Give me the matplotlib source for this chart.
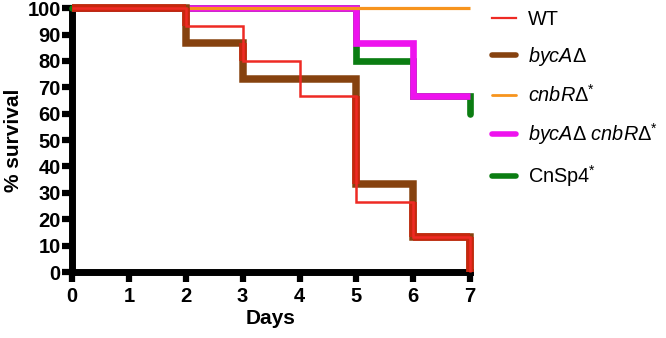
import matplotlib
matplotlib.use("Agg")
import matplotlib.pyplot as plt
from matplotlib.lines import Line2D
import numpy as np

plt.rcParams['font.family'] = ['Liberation Sans', 'DejaVu Sans']
plt.rcParams['mathtext.fontset'] = 'custom'
plt.rcParams['mathtext.rm'] = 'Liberation Sans'
plt.rcParams['mathtext.it'] = 'Liberation Sans:italic'
plt.rcParams['mathtext.bf'] = 'Liberation Sans:bold'

# ---- data (Kaplan-Meier steps: time of change, survival after change) ----
wt_days = [0, 2, 3, 4, 5, 6, 7]
wt_surv = [100, 93.3, 80, 66.7, 26.7, 13.3, 0]

byca_days = [0, 2, 3, 5, 6, 7]
byca_surv = [100, 86.7, 73.3, 33.3, 13.3, 0]

cnbr_days = [0, 7]
cnbr_surv = [100, 100]

double_days = [0, 5, 6, 7]
double_surv = [100, 86.7, 66.7, 66.7]

cnsp4_days = [0, 5, 6, 7]
cnsp4_surv = [100, 80, 66.7, 60]

labels = ['WT', r'$\mathit{bycA\Delta}$', r'$\mathit{cnbR\Delta}^{*}$',
          r'$\mathit{bycA\Delta\ cnbR\Delta}^{*}$', r'CnSp4$^{*}$']
x_ticks = list(range(0, 8))
y_ticks = list(range(0, 101, 10))

c_wt = '#ee2a24'
c_byca = '#86420f'
c_overlap = '#c8260e'
c_cnbr = '#f7941d'
c_double = '#ee12ee'
c_cnsp4 = '#0b7d12'


def step_xy(t, s):
    xs, ys = [t[0]], [s[0]]
    for i in range(1, len(t)):
        xs += [t[i], t[i]]
        ys += [s[i - 1], s[i]]
    return np.array(xs, float), np.array(ys, float)


def segments(t, s):
    xs, ys = step_xy(t, s)
    return [((xs[i], ys[i]), (xs[i + 1], ys[i + 1])) for i in range(len(xs) - 1)]


def overlaps(t1, s1, t2, s2):
    out = []
    for (a0, a1) in segments(t1, s1):
        for (b0, b1) in segments(t2, s2):
            if a0[1] == a1[1] and b0[1] == b1[1] and abs(a0[1] - b0[1]) < 1e-9:
                lo = max(min(a0[0], a1[0]), min(b0[0], b1[0]))
                hi = min(max(a0[0], a1[0]), max(b0[0], b1[0]))
                if hi > lo:
                    out.append(([lo, hi], [a0[1], a0[1]]))
            elif a0[0] == a1[0] and b0[0] == b1[0] and abs(a0[0] - b0[0]) < 1e-9:
                lo = max(min(a0[1], a1[1]), min(b0[1], b1[1]))
                hi = min(max(a0[1], a1[1]), max(b0[1], b1[1]))
                if hi > lo:
                    out.append(([a0[0], a0[0]], [lo, hi]))
    return out


fig = plt.figure(figsize=(6.66, 3.38), dpi=100)
ax = fig.add_axes([0.108, 0.195, 0.598, 0.781])

kw = dict(solid_capstyle='butt', solid_joinstyle='miter', clip_on=False)
ax.plot(*step_xy(cnsp4_days, cnsp4_surv), color=c_cnsp4, lw=4.8, zorder=3,
        solid_capstyle='round', solid_joinstyle='miter', clip_on=False)
ax.plot(*step_xy(double_days, double_surv), color=c_double, lw=4.8, zorder=4, **kw)
ax.plot(*step_xy(cnbr_days, cnbr_surv), color=c_cnbr, lw=2.3, zorder=5, **kw)
ax.plot(*step_xy(byca_days, byca_surv), color=c_byca, lw=5.4, zorder=6, **kw)
for xs, ys in overlaps(wt_days, wt_surv, byca_days, byca_surv):
    ax.plot(xs, ys, color=c_overlap, lw=5.4, zorder=7, **kw)
ax.plot(*step_xy(wt_days, wt_surv), color=c_wt, lw=1.8, zorder=8, **kw)

ax.set_xlim(0, 7)
ax.set_ylim(0, 100)
ax.set_xticks(x_ticks)
ax.set_yticks(y_ticks)
ax.set_xticklabels([str(v) for v in x_ticks], fontsize=14.5, fontweight='bold')
ax.set_yticklabels([str(v) for v in y_ticks], fontsize=14.5, fontweight='bold')
for side in ['top', 'right']:
    ax.spines[side].set_visible(False)
for side in ['left', 'bottom']:
    ax.spines[side].set_linewidth(5.0)
    ax.spines[side].set_zorder(2)
ax.tick_params(axis='both', direction='out', length=7, width=4.5)
ax.tick_params(axis='x', pad=4)
ax.tick_params(axis='y', pad=1)
ax.set_xlabel('Days', fontsize=15, fontweight='bold', labelpad=2)
ax.set_ylabel('% survival', fontsize=15, fontweight='bold', labelpad=3)

handles = [
    Line2D([], [], color=c_wt, lw=1.6),
    Line2D([], [], color=c_byca, lw=4.0, solid_capstyle='round'),
    Line2D([], [], color=c_cnbr, lw=2.0, solid_capstyle='round'),
    Line2D([], [], color=c_double, lw=4.0, solid_capstyle='round'),
    Line2D([], [], color=c_cnsp4, lw=4.0, solid_capstyle='round'),
]
fig.legend(handles, labels, loc='upper left', bbox_to_anchor=(0.718, 1.012),
           frameon=False, fontsize=14.3, handlelength=1.2, handletextpad=0.6,
           labelspacing=0.8, borderaxespad=0.3)

fig.savefig('out.png', dpi=100)
